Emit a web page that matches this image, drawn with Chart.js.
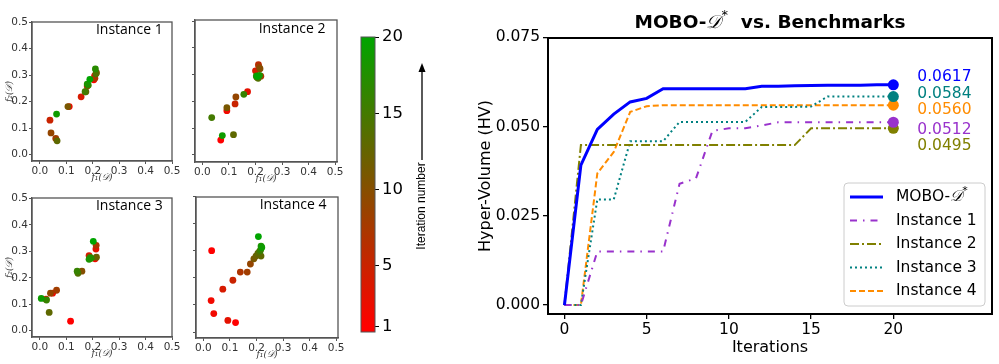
<!DOCTYPE html>
<html>
<head>
<meta charset="utf-8">
<script src="https://cdn.jsdelivr.net/npm/chart.js@4.4.0/dist/chart.umd.min.js"></script>
<style>
  html, body { margin: 0; padding: 0; background: #fff; }
  body { width: 999px; height: 364px; position: relative; overflow: hidden; }
  canvas { position: absolute; }
</style>
</head>
<body>
<canvas id="p1"></canvas>
<canvas id="p2"></canvas>
<canvas id="p3"></canvas>
<canvas id="p4"></canvas>
<canvas id="cbar"></canvas>
<canvas id="hv"></canvas>
<script>
// ---- scatter panels: f1, f2 and iteration number of each evaluated design
const inst1F1 = [0.204, 0.111, 0.207, 0.156, 0.038, 0.179, 0.208, 0.060, 0.042, 0.214, 0.106, 0.174, 0.065, 0.212, 0.171, 0.183, 0.210, 0.179, 0.063, 0.189];
const inst1F2 = [0.282, 0.181, 0.297, 0.218, 0.130, 0.259, 0.288, 0.061, 0.082, 0.309, 0.181, 0.237, 0.052, 0.305, 0.237, 0.262, 0.323, 0.266, 0.153, 0.284];
const inst1Iter = [1, 2, 3, 4, 5, 6, 7, 8, 9, 10, 11, 12, 13, 14, 15, 16, 17, 18, 19, 20];

const inst2F1 = [0.069, 0.092, 0.170, 0.200, 0.123, 0.211, 0.220, 0.213, 0.126, 0.217, 0.092, 0.205, 0.117, 0.210, 0.035, 0.156, 0.203, 0.215, 0.075, 0.207];
const inst2F2 = [0.055, 0.165, 0.236, 0.314, 0.190, 0.337, 0.294, 0.329, 0.216, 0.322, 0.176, 0.290, 0.075, 0.286, 0.139, 0.226, 0.295, 0.297, 0.072, 0.293];
const inst2Iter = [1, 2, 3, 4, 5, 6, 7, 8, 9, 10, 11, 12, 13, 14, 15, 16, 17, 18, 19, 20];

const inst3F1 = [0.116, 0.023, 0.048, 0.186, 0.209, 0.212, 0.213, 0.063, 0.040, 0.159, 0.214, 0.035, 0.144, 0.190, 0.141, 0.025, 0.194, 0.186, 0.005, 0.202];
const inst3F2 = [0.036, 0.119, 0.142, 0.284, 0.272, 0.309, 0.323, 0.153, 0.142, 0.225, 0.278, 0.069, 0.217, 0.277, 0.225, 0.116, 0.274, 0.270, 0.122, 0.338];
const inst3Iter = [1, 3, 2, 4, 2, 3, 7, 8, 9, 10, 12, 13, 14, 15, 16, 16, 17, 18, 19, 20];

const inst4F1 = [0.031, 0.029, 0.039, 0.092, 0.121, 0.073, 0.111, 0.139, 0.165, 0.177, 0.190, 0.198, 0.205, 0.217, 0.211, 0.215, 0.217, 0.220, 0.207];
const inst4F2 = [0.300, 0.116, 0.068, 0.043, 0.035, 0.158, 0.191, 0.221, 0.221, 0.251, 0.270, 0.280, 0.290, 0.280, 0.296, 0.302, 0.317, 0.312, 0.352];
const inst4Iter = [1, 2, 2, 3, 1, 4, 5, 7, 8, 9, 11, 12, 13, 13, 14, 16, 18, 19, 20];

const panelTicks = [0, 0.1, 0.2, 0.3, 0.4, 0.5];
const cbarTicks = [1, 5, 10, 15, 20];

// ---- hyper-volume per iteration
const iterations = [0, 1, 2, 3, 4, 5, 6, 7, 8, 9, 10, 11, 12, 13, 14, 15, 16, 17, 18, 19, 20];
const moboHV  = [0, 0.0392, 0.0492, 0.0535, 0.0569, 0.0579, 0.0606, 0.0606, 0.0606, 0.0606, 0.0606, 0.0606, 0.0613, 0.0613, 0.0614, 0.0615, 0.0616, 0.0616, 0.0616, 0.0617, 0.0617];
const inst1HV = [0, 0, 0.0150, 0.0150, 0.0150, 0.0150, 0.0150, 0.0340, 0.0355, 0.0488, 0.0495, 0.0495, 0.0503, 0.0512, 0.0512, 0.0512, 0.0512, 0.0512, 0.0512, 0.0512, 0.0512];
const inst2HV = [0, 0.0448, 0.0448, 0.0448, 0.0448, 0.0448, 0.0448, 0.0448, 0.0448, 0.0448, 0.0448, 0.0448, 0.0448, 0.0448, 0.0448, 0.0495, 0.0495, 0.0495, 0.0495, 0.0495, 0.0495];
const inst3HV = [0, 0, 0.0296, 0.0296, 0.0459, 0.0459, 0.0459, 0.0513, 0.0513, 0.0513, 0.0513, 0.0513, 0.0555, 0.0555, 0.0555, 0.0556, 0.0584, 0.0584, 0.0584, 0.0584, 0.0584];
const inst4HV = [0, 0, 0.0369, 0.0429, 0.0541, 0.0557, 0.0560, 0.0560, 0.0560, 0.0560, 0.0560, 0.0560, 0.0560, 0.0560, 0.0560, 0.0560, 0.0560, 0.0560, 0.0560, 0.0560, 0.0560];
const hvXTicks = [0, 5, 10, 15, 20];
const hvYTicks = [0, 0.025, 0.05, 0.075];

const SCRIPT_D = '\u{1D49F}';

function iterColor(it) {
  const t = Math.max(0, Math.min(1, (it - 1) / 19));
  return `rgb(${Math.round(255 * (1 - t))},${Math.round(165 * t)},0)`;
}

function drawRich(ctx, parts, x, y, align) {
  let total = 0;
  parts.forEach(p => { ctx.font = p.font; p.w = ctx.measureText(p.t).width; total += p.w; });
  let cx = align === 'center' ? x - total / 2 : x;
  ctx.textAlign = 'left';
  parts.forEach(p => { ctx.font = p.font; ctx.fillText(p.t, cx, y + (p.dy || 0)); cx += p.w; });
}

// ---------------- scatter panels ----------------
const panelFrame = {
  id: 'panelFrame',
  afterDraw(chart, args, opts) {
    const { ctx, chartArea: a, scales } = chart;
    ctx.save();
    ctx.strokeStyle = '#555';
    ctx.lineWidth = 1.3;
    ctx.strokeRect(a.left, a.top, a.right - a.left, a.bottom - a.top);
    ctx.fillStyle = '#000';
    ctx.font = '14px "Open Sans"';
    ctx.textAlign = 'left';
    ctx.textBaseline = 'middle';
    ctx.fillText(opts.label, scales.x.getPixelForValue(0.212), scales.y.getPixelForValue(0.47));
    ctx.restore();
  }
};

const panels = [
  { id: 'p1', label: 'Instance 1', f1: inst1F1, f2: inst1F2, it: inst1Iter, area: { left: 32, top: 22, right: 172, bottom: 161 }, yLabels: true,  x: [-0.03, 0.5],   y: [-0.024, 0.5] },
  { id: 'p2', label: 'Instance 2', f1: inst2F1, f2: inst2F2, it: inst2Iter, area: { left: 195, top: 20, right: 337, bottom: 162 }, yLabels: false, x: [-0.028, 0.507], y: [-0.027, 0.504] },
  { id: 'p3', label: 'Instance 3', f1: inst3F1, f2: inst3F2, it: inst3Iter, area: { left: 32, top: 198, right: 172, bottom: 337 }, yLabels: true,  x: [-0.03, 0.5],   y: [-0.024, 0.502] },
  { id: 'p4', label: 'Instance 4', f1: inst4F1, f2: inst4F2, it: inst4Iter, area: { left: 196, top: 197, right: 338, bottom: 338 }, yLabels: false, x: [-0.028, 0.507], y: [-0.022, 0.498] }
];

const padL = 32, padT = 20, padR = 12, padB = 26;
const tickFont = { family: 'DejaVu Sans', size: 10.5 };
const mathFont = { family: 'DejaVu Serif', size: 9, style: 'italic' };

panels.forEach(p => {
  const cv = document.getElementById(p.id);
  const w = p.area.right - p.area.left + padL + padR;
  const h = p.area.bottom - p.area.top + padT + padB;
  cv.width = w; cv.height = h;
  cv.style.width = w + 'px'; cv.style.height = h + 'px';
  cv.style.left = (p.area.left - padL) + 'px';
  cv.style.top = (p.area.top - padT) + 'px';

  new Chart(cv, {
    type: 'scatter',
    data: {
      datasets: [{
        data: p.f1.map((x, i) => ({ x, y: p.f2[i] })),
        backgroundColor: p.it.map(iterColor),
        borderWidth: 0,
        pointRadius: 3.4,
        pointHoverRadius: 3.4
      }]
    },
    options: {
      responsive: false,
      animation: false,
      events: [],
      layout: { padding: { top: padT, right: padR, left: 0, bottom: 0 } },
      plugins: { legend: { display: false }, tooltip: { enabled: false }, panelFrame: { label: p.label } },
      scales: {
        x: {
          type: 'linear', min: p.x[0], max: p.x[1],
          afterBuildTicks: s => { s.ticks = panelTicks.map(v => ({ value: v })); },
          afterFit: s => { s.height = padB; },
          grid: { drawOnChartArea: false, drawTicks: true, tickLength: 3, color: '#555' },
          border: { display: true, color: '#555', width: 1.3 },
          ticks: { autoSkip: false, maxRotation: 0, padding: 1, font: tickFont, color: '#333', callback: v => v.toFixed(1) },
          title: { display: true, text: 'f\u2081(' + SCRIPT_D + ')', font: mathFont, color: '#333', padding: { top: 0, bottom: 3.5 } }
        },
        y: {
          type: 'linear', min: p.y[0], max: p.y[1],
          afterBuildTicks: s => { s.ticks = panelTicks.map(v => ({ value: v })); },
          afterFit: s => { s.width = padL; },
          grid: { drawOnChartArea: false, drawTicks: true, tickLength: 3, color: '#555' },
          border: { display: true, color: '#555', width: 1.3 },
          ticks: { autoSkip: false, padding: 1, font: tickFont, color: '#333', callback: v => p.yLabels ? v.toFixed(1) : '' },
          title: { display: p.yLabels, text: 'f\u2082(' + SCRIPT_D + ')', font: mathFont, color: '#333', padding: { top: 4.5, bottom: 0 } }
        }
      }
    },
    plugins: [panelFrame]
  });
});

// ---------------- colour bar ----------------
const cbarPaint = {
  id: 'cbarPaint',
  beforeDatasetsDraw(chart) {
    const { ctx, chartArea: a, scales } = chart;
    const y1 = scales.y.getPixelForValue(cbarTicks[0]);
    const y2 = scales.y.getPixelForValue(cbarTicks[cbarTicks.length - 1]);
    const g = ctx.createLinearGradient(0, y1, 0, y2);
    g.addColorStop(0, iterColor(1));
    g.addColorStop(0.5, iterColor(10.5));
    g.addColorStop(1, iterColor(20));
    ctx.save();
    ctx.fillStyle = g;
    ctx.fillRect(a.left, a.top, a.right - a.left, a.bottom - a.top);
    ctx.strokeStyle = '#555';
    ctx.lineWidth = 1;
    ctx.strokeRect(a.left, a.top, a.right - a.left, a.bottom - a.top);
    ctx.restore();
  },
  afterDraw(chart) {
    const { ctx } = chart;
    const ax = 82;
    ctx.save();
    ctx.strokeStyle = '#000';
    ctx.fillStyle = '#000';
    ctx.lineWidth = 1.3;
    ctx.beginPath();
    ctx.moveTo(ax, 140);
    ctx.lineTo(ax, 48);
    ctx.stroke();
    ctx.beginPath();
    ctx.moveTo(ax, 43);
    ctx.lineTo(ax - 3.5, 52);
    ctx.lineTo(ax + 3.5, 52);
    ctx.closePath();
    ctx.fill();
    ctx.translate(ax, 186);
    ctx.rotate(-Math.PI / 2);
    ctx.font = '12px "Liberation Sans"';
    ctx.textAlign = 'center';
    ctx.textBaseline = 'middle';
    ctx.fillText('Iteration number', 0, 0);
    ctx.restore();
  }
};

(function () {
  const cv = document.getElementById('cbar');
  cv.width = 110; cv.height = 325;
  cv.style.width = '110px'; cv.style.height = '325px';
  cv.style.left = '340px'; cv.style.top = '20px';
  new Chart(cv, {
    type: 'scatter',
    data: { datasets: [{ data: [] }] },
    options: {
      responsive: false,
      animation: false,
      events: [],
      layout: { padding: { left: 21, top: 17, right: 0, bottom: 13 } },
      plugins: { legend: { display: false }, tooltip: { enabled: false } },
      scales: {
        x: { display: false, min: 0, max: 1 },
        y: {
          position: 'right', min: 0.67, max: 20,
          afterBuildTicks: s => { s.ticks = cbarTicks.map(v => ({ value: v })); },
          afterFit: s => { s.width = 75; },
          grid: { drawOnChartArea: false, drawTicks: true, tickLength: 4, color: '#000' },
          border: { display: false },
          ticks: { autoSkip: false, padding: 3, font: { family: 'DejaVu Sans', size: 16.5 }, color: '#000' }
        }
      }
    },
    plugins: [cbarPaint]
  });
})();

// ---------------- hyper-volume chart ----------------
const hvSeries = [
  { name: 'MOBO-' + SCRIPT_D, sup: '*', values: moboHV, color: '#0000ff', width: 3, dash: [], labelShift: -8.3 },
  { name: 'Instance 1', values: inst1HV, color: '#9932cc', width: 2, dash: [7, 6, 1.5, 6], labelShift: 7.4 },
  { name: 'Instance 2', values: inst2HV, color: '#808000', width: 2, dash: [9, 3, 2, 3], labelShift: 18.1 },
  { name: 'Instance 3', values: inst3HV, color: '#008080', width: 2, dash: [2, 3], labelShift: -2.6 },
  { name: 'Instance 4', values: inst4HV, color: '#ff8c00', width: 2, dash: [6, 3], labelShift: 5.3 }
];

const hvDecor = {
  id: 'hvDecor',
  afterDraw(chart) {
    const { ctx, chartArea: a, scales } = chart;
    ctx.save();
    // top and right spines
    ctx.strokeStyle = '#000';
    ctx.lineWidth = 2;
    ctx.strokeRect(a.left, a.top, a.right - a.left, a.bottom - a.top);

    // title
    ctx.fillStyle = '#000';
    ctx.textBaseline = 'middle';
    drawRich(ctx, [
      { t: 'MOBO-', font: 'bold 18.5px "DejaVu Sans"' },
      { t: SCRIPT_D, font: 'italic 18.5px "DejaVu Serif"' },
      { t: '*', font: '13px "DejaVu Sans"', dy: -7 },
      { t: '  vs. Benchmarks', font: 'bold 18.5px "DejaVu Sans"' }
    ], (a.left + a.right) / 2, 23, 'center');

    // final values next to the end markers
    const last = iterations.length - 1;
    const lx = scales.x.getPixelForValue(iterations[last]) + 24;
    hvSeries.forEach(s => {
      const v = s.values[last];
      ctx.fillStyle = s.color;
      ctx.font = '15.5px "DejaVu Sans"';
      ctx.textAlign = 'left';
      ctx.fillText(v.toFixed(4), lx, scales.y.getPixelForValue(v) + s.labelShift);
    });

    // legend
    const bw = 141, bh = 123;
    const bx = a.right - 7 - bw, by = a.bottom - 8 - bh;
    ctx.beginPath();
    ctx.roundRect(bx, by, bw, bh, 4);
    ctx.fillStyle = 'rgba(255,255,255,0.85)';
    ctx.fill();
    ctx.strokeStyle = '#cccccc';
    ctx.lineWidth = 1;
    ctx.stroke();
    hvSeries.forEach((s, i) => {
      const ry = by + 14 + i * 23.5;
      ctx.strokeStyle = s.color;
      ctx.lineWidth = s.width;
      ctx.setLineDash(s.dash);
      ctx.beginPath();
      ctx.moveTo(bx + 6, ry);
      ctx.lineTo(bx + 39, ry);
      ctx.stroke();
      ctx.setLineDash([]);
      ctx.fillStyle = '#000';
      const parts = [{ t: s.name, font: '15.5px "DejaVu Sans"' }];
      if (s.sup) {
        parts[0] = { t: 'MOBO-', font: '15.5px "DejaVu Sans"' };
        parts.push({ t: SCRIPT_D, font: 'italic 15.5px "DejaVu Serif"' });
        parts.push({ t: s.sup, font: '11px "DejaVu Sans"', dy: -6 });
      }
      drawRich(ctx, parts, bx + 52, ry, 'left');
    });
    ctx.restore();
  }
};

(function () {
  const cv = document.getElementById('hv');
  cv.width = 529; cv.height = 364;
  cv.style.width = '529px'; cv.style.height = '364px';
  cv.style.left = '470px'; cv.style.top = '0px';
  const last = iterations.length - 1;
  new Chart(cv, {
    type: 'line',
    data: {
      datasets: hvSeries.map(s => ({
        label: s.name,
        data: iterations.map((x, i) => ({ x, y: s.values[i] })),
        borderColor: s.color,
        backgroundColor: s.color,
        borderWidth: s.width,
        borderDash: s.dash,
        fill: false,
        tension: 0,
        pointRadius: c => (c.dataIndex === last ? 5.5 : 0),
        pointHoverRadius: c => (c.dataIndex === last ? 5.5 : 0),
        pointBorderWidth: 0,
        pointBackgroundColor: s.color
      }))
    },
    options: {
      responsive: false,
      animation: false,
      events: [],
      layout: { padding: { top: 38, right: 7, left: 0, bottom: 0 } },
      plugins: { legend: { display: false }, tooltip: { enabled: false }, title: { display: false } },
      scales: {
        x: {
          type: 'linear', min: -1, max: 26,
          afterBuildTicks: s => { s.ticks = hvXTicks.map(v => ({ value: v })); },
          afterFit: s => { s.height = 50; },
          grid: { drawOnChartArea: false, drawTicks: true, tickLength: 5, color: '#000', lineWidth: 1.3 },
          border: { display: true, color: '#000', width: 2 },
          ticks: { autoSkip: false, maxRotation: 0, padding: 2, font: { family: 'DejaVu Sans', size: 15.5 }, color: '#000' },
          title: { display: true, text: 'Iterations', font: { family: 'DejaVu Sans', size: 16 }, color: '#000', padding: { top: 0, bottom: 6.4 } }
        },
        y: {
          type: 'linear', min: -0.0025, max: 0.0748,
          afterBuildTicks: s => { s.ticks = hvYTicks.map(v => ({ value: v })); },
          afterFit: s => { s.width = 78; },
          grid: { drawOnChartArea: false, drawTicks: true, tickLength: 5, color: '#000', lineWidth: 1.3 },
          border: { display: true, color: '#000', width: 2 },
          ticks: { autoSkip: false, padding: 3, font: { family: 'DejaVu Sans', size: 15.5 }, color: '#000', callback: v => v.toFixed(3) },
          title: { display: true, text: 'Hyper-Volume (HV)', font: { family: 'DejaVu Sans', size: 16 }, color: '#000', padding: { top: 6, bottom: 0 } }
        }
      }
    },
    plugins: [hvDecor]
  });
})();
</script>
</body>
</html>
